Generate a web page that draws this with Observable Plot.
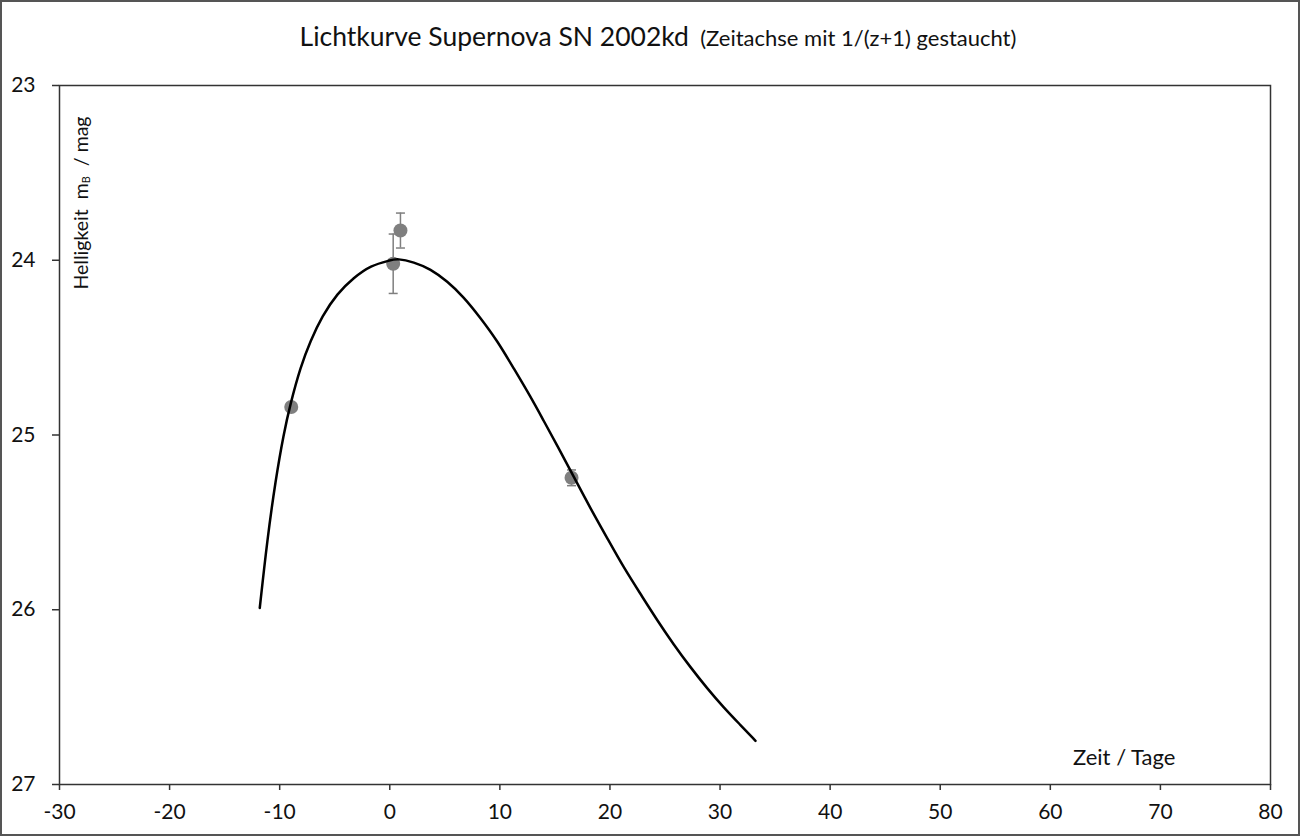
<!DOCTYPE html>
<html>
<head>
<meta charset="utf-8">
<script src="https://cdn.jsdelivr.net/npm/d3@7"></script>
<script src="https://cdn.jsdelivr.net/npm/@observablehq/plot@0.6"></script>
<style>
  html, body { margin: 0; padding: 0; background: #fff; }
  #wrap { position: relative; width: 1300px; height: 836px; font-family: Lato, "Open Sans", sans-serif; color: #111; }
  #border { position: absolute; left: 0; top: 0; width: 1300px; height: 836px; box-sizing: border-box; border: 2px solid #555; pointer-events: none; }
  #title { position: absolute; left: 0; width: 1316px; top: 20px; text-align: center; white-space: pre; line-height: 32px; }
  #title .main { font-size: 26.5px; }
  #title .sub { font-size: 22px; }
  #ylabel { position: absolute; left: 80px; top: 203px; transform: translate(-50%, -50%) rotate(-90deg); font-size: 19.5px; white-space: pre; }
  #ylabel sub { font-size: 11px; vertical-align: -2px; }
  #xlabel { position: absolute; left: 1073px; top: 743px; font-size: 22px; white-space: pre; }
</style>
</head>
<body>
<div id="wrap">
  <div id="chart"></div>
  <div id="title"><span class="main">Lichtkurve Supernova SN 2002kd</span><span class="sub">  (Zeitachse mit 1/(z+1) gestaucht)</span></div>
  <div id="ylabel">Helligkeit  m<sub>B</sub>  / mag</div>
  <div id="xlabel">Zeit / Tage</div>
  <div id="border"></div>
</div>
<script>
// Observations (time in days, magnitude, error)
const obsTime = [-8.95, 0.31, 0.97, 16.51];
const obsMag  = [24.84, 24.02, 23.83, 25.245];
const obsErr  = [0, 0.17, 0.10, 0.045];

// Fitted light curve
const curveTime = [-11.81, -11.13, -10.38, -9.63, -9.02, -8.11, -7.20, -6.14, -4.78, -3.27, -1.75, 0.07, 0.67, 2.18, 3.70, 5.22, 6.72, 8.24, 9.76, 11.27, 12.78, 13.99, 15.21, 16.72, 18.23, 19.75, 21.26, 22.78, 24.29, 25.80, 27.32, 28.83, 30.34, 31.86, 33.22];
const curveMag  = [25.99, 25.60, 25.26, 24.99, 24.82, 24.61, 24.46, 24.32, 24.19, 24.10, 24.03, 24.00, 23.99, 24.01, 24.05, 24.12, 24.21, 24.33, 24.46, 24.62, 24.78, 24.92, 25.06, 25.24, 25.42, 25.59, 25.76, 25.91, 26.06, 26.20, 26.33, 26.45, 26.56, 26.66, 26.75];

// Axis ticks
const xTicks = [-30, -20, -10, 0, 10, 20, 30, 40, 50, 60, 70, 80];
const yTicks = [23, 24, 25, 26, 27];

const obs = obsTime.map((t, i) => ({t, m: obsMag[i], lo: obsMag[i] - obsErr[i], hi: obsMag[i] + obsErr[i], e: obsErr[i]}));
const obsE = obs.filter(d => d.e > 0);
const curve = curveTime.map((t, i) => ({t, m: curveMag[i]}));

const capSymbol = {
  draw(ctx, size) {
    const r = Math.sqrt(size / Math.PI);
    ctx.moveTo(-r, 0);
    ctx.lineTo(r, 0);
  }
};

const gray = "#7f7f7f";
const axisColor = "#333";

const plot = Plot.plot({
  width: 1300,
  height: 836,
  marginLeft: 59,
  marginRight: 30,
  marginTop: 85,
  marginBottom: 52,
  style: {fontFamily: "Lato, 'Open Sans', sans-serif", fontSize: "21px", color: "#111", background: "transparent", overflow: "visible"},
  x: {domain: [-30, 80]},
  y: {domain: [23, 27], reverse: true},
  marks: [
    Plot.frame({stroke: axisColor, strokeWidth: 1.5}),
    Plot.axisX({ticks: xTicks, tickSize: 6, tickPadding: 14, tickFormat: d => String(d), label: null, stroke: axisColor, strokeWidth: 1.5}),
    Plot.axisY({ticks: yTicks, tickSize: 7, tickPadding: 17, tickFormat: d => String(d), label: null, stroke: axisColor, strokeWidth: 1.5}),
    Plot.ruleX(obsE, {x: "t", y1: "lo", y2: "hi", stroke: gray, strokeWidth: 1.5}),
    Plot.dot(obsE, {x: "t", y: "lo", symbol: capSymbol, r: 4.5, stroke: gray, strokeWidth: 1.5}),
    Plot.dot(obsE, {x: "t", y: "hi", symbol: capSymbol, r: 4.5, stroke: gray, strokeWidth: 1.5}),
    Plot.dot(obs, {x: "t", y: "m", r: 7, fill: gray, stroke: "none"}),
    Plot.line(curve, {x: "t", y: "m", curve: "basis", stroke: "#000", strokeWidth: 2.5})
  ]
});
document.getElementById("chart").appendChild(plot);
</script>
</body>
</html>
